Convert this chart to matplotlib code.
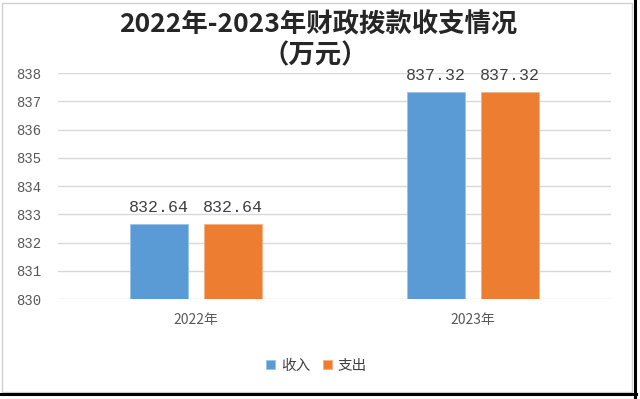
import numpy as np
import matplotlib
matplotlib.use('Agg')
import matplotlib.pyplot as plt
from matplotlib.lines import Line2D
from matplotlib.patches import Rectangle

plt.rcParams['font.family'] = ['Noto Sans CJK SC', 'DejaVu Sans']

years = ['2022年', '2023年']
income = [832.64, 837.32]
spend = [832.64, 837.32]
series_names = ['收入', '支出']
yticks = [830, 831, 832, 833, 834, 835, 836, 837, 838]

blue = '#5B9BD5'
orange = '#ED7D31'

fig = plt.figure(figsize=(6.4, 3.99), dpi=100)
ax = fig.add_axes([0.0906, 0.2506, 0.8644, 0.5664])

x = np.arange(len(years))
w = 0.21
off = 0.134
b1 = ax.bar(x - off, income, w, bottom=0, color=blue, edgecolor='#9DC3E6', linewidth=0.6,
            label=series_names[0], zorder=3)
b2 = ax.bar(x + off, spend, w, bottom=0, color=orange, edgecolor='#F4B183', linewidth=0.6,
            label=series_names[1], zorder=3)

for bars in (b1, b2):
    for r in bars:
        ax.annotate(f'{r.get_height():.2f}', (r.get_x() + r.get_width() / 2, r.get_height()),
                    xytext=(0, 7), textcoords='offset points', ha='center', va='bottom',
                    fontsize=12, family='Liberation Mono', color='#404040')

ax.set_ylim(830, 838)
ax.set_xlim(-0.5, 1.5)
ax.set_yticks(yticks)
ax.set_yticklabels([str(t) for t in yticks], family='Liberation Mono', fontsize=10, color='#595959')
ax.set_xticks(x)
ax.set_xticklabels(years, fontsize=10, color='#595959')
ax.tick_params(axis='both', length=0)
ax.tick_params(axis='y', pad=12)
ax.tick_params(axis='x', pad=10)
ax.grid(axis='y', color='#D9D9D9', linewidth=1, zorder=0)
for s in ax.spines.values():
    s.set_visible(False)

fig.text(0.497, 0.937, '2022年-2023年财政拨款收支情况', ha='center', va='center',
         fontsize=19, fontweight='bold', color='#262626')
fig.text(0.493, 0.86, '（万元）', ha='center', va='center',
         fontsize=19, fontweight='bold', color='#262626')

leg = fig.legend(loc='center', bbox_to_anchor=(0.495, 0.083), ncol=2, frameon=False,
                 fontsize=10.5, handlelength=0.6, handleheight=0.6, handletextpad=0.4,
                 columnspacing=0.9, labelcolor='#404040')

# outer frame
fig.add_artist(Rectangle((2 / 640, 1 - 392 / 399), 630 / 640, 389 / 399, transform=fig.transFigure,
                         fill=False, edgecolor='#D0D0D0', linewidth=1))
fig.add_artist(Line2D([634.5 / 640, 634.5 / 640], [1 - 397 / 399, 1], transform=fig.transFigure,
                      color='black', linewidth=2.2))
fig.add_artist(Line2D([0, 636 / 640], [1 - 393.5 / 399, 1 - 393.5 / 399], transform=fig.transFigure,
                      color='black', linewidth=2.2))

fig.savefig('out.png', dpi=100)
